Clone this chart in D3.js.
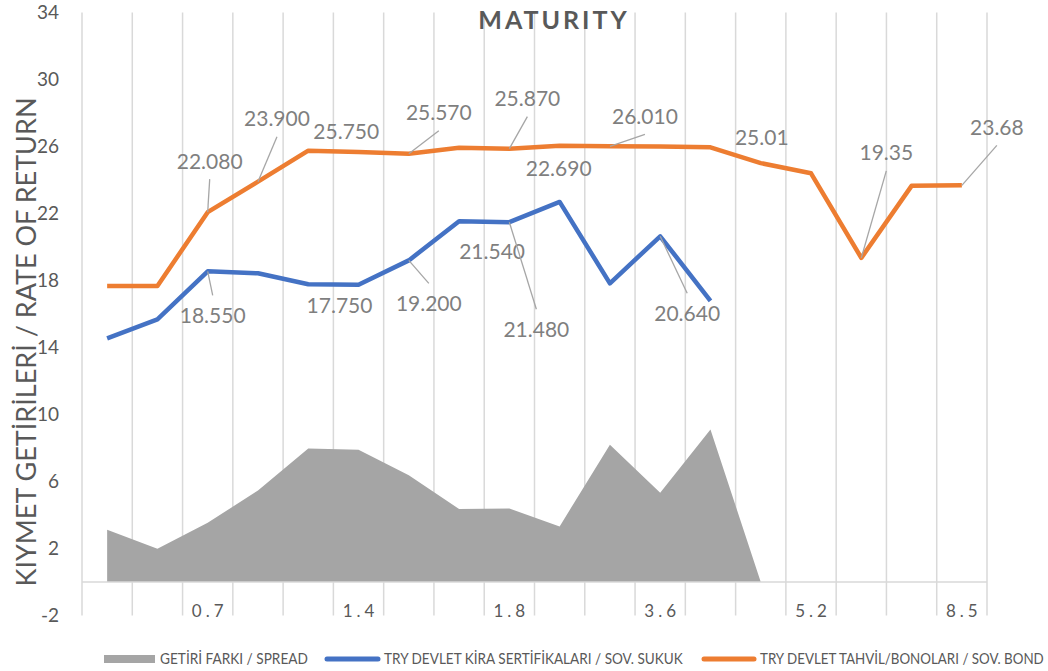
<!DOCTYPE html>
<html>
<head>
<meta charset="utf-8">
<script src="https://cdn.jsdelivr.net/npm/d3@7"></script>
<style>
  body { margin: 0; background: #fff; }
  text { font-family: Lato, "Liberation Sans", sans-serif; }
</style>
</head>
<body>
<div id="chart"></div>
<script>
// maturity categories (only every third one is labelled on the axis)
var tickLabels = ["", "", "0.7", "", "", "1.4", "", "", "1.8", "", "", "3.6", "", "", "5.2", "", "", "8.5"];
var yTicks = [-2, 2, 6, 10, 14, 18, 22, 26, 30, 34];

// TRY DEVLET TAHVİL/BONOLARI / SOV. BOND
var bond = [17.67, 17.67, 22.08, 23.90, 25.75, 25.67, 25.57, 25.93, 25.87, 26.05, 26.01, 26.00, 25.95, 25.01, 24.40, 19.35, 23.65, 23.68];
// TRY DEVLET KİRA SERTİFİKALARI / SOV. SUKUK
var sukuk = [14.55, 15.68, 18.55, 18.43, 17.78, 17.75, 19.20, 21.54, 21.48, 22.69, 17.83, 20.64, 16.79];
// GETİRİ FARKI / SPREAD
var spread = [3.12, 1.99, 3.53, 5.47, 7.97, 7.90, 6.37, 4.36, 4.39, 3.32, 8.20, 5.33, 9.10, 0];

// which points carry a data label, and where the label box sits (px offset from the point)
var bondLabels = [
  { i: 2, dec: 3, dx: 2, dy: -51, leader: true },
  { i: 3, dec: 3, dx: 19, dy: -63, leader: true },
  { i: 4, dec: 3, dx: 38, dy: -19, leader: false },
  { i: 6, dec: 3, dx: 30, dy: -41, leader: true },
  { i: 8, dec: 3, dx: 18, dy: -50, leader: true },
  { i: 10, dec: 3, dx: 35, dy: -30, leader: true },
  { i: 13, dec: 2, dx: 1, dy: -26, leader: false },
  { i: 15, dec: 2, dx: 25, dy: -105, leader: true },
  { i: 17, dec: 2, dx: 35, dy: -58, leader: true }
];
var sukukLabels = [
  { i: 2, dec: 3, dx: 5, dy: 44, leader: true },
  { i: 5, dec: 3, dx: -19, dy: 21, leader: false },
  { i: 6, dec: 3, dx: 20, dy: 43, leader: true },
  { i: 7, dec: 3, dx: 33, dy: 30, leader: false },
  { i: 8, dec: 3, dx: 27, dy: 107, leader: true },
  { i: 9, dec: 3, dx: -1, dy: -34, leader: false },
  { i: 11, dec: 3, dx: 27, dy: 77, leader: true }
];

var W = 1048, H = 671;
var plot = { left: 82, right: 987, top: 12.5, bottom: 615.5 };

var svg = d3.select("#chart").append("svg")
  .attr("width", W)
  .attr("height", H);

var x = d3.scaleBand()
  .domain(d3.range(tickLabels.length))
  .range([plot.left, plot.right])
  .padding(0);
var y = d3.scaleLinear()
  .domain([-2, 34])
  .range([plot.bottom, plot.top]);

var cx = function (i) { return x(i) + x.bandwidth() / 2; };

// vertical gridlines at category boundaries
var bounds = d3.range(tickLabels.length + 1).map(function (k) { return plot.left + k * x.step(); });
svg.append("g").selectAll("line")
  .data(bounds)
  .enter().append("line")
  .attr("x1", function (d) { return d; })
  .attr("x2", function (d) { return d; })
  .attr("y1", plot.top)
  .attr("y2", plot.bottom)
  .attr("stroke", "#d9d9d9")
  .attr("stroke-width", 1.5);

// spread area
var area = d3.area()
  .x(function (d, i) { return cx(i); })
  .y0(y(0))
  .y1(function (d) { return y(d); });
svg.append("path")
  .datum(spread)
  .attr("d", area)
  .attr("fill", "#a5a5a5");

// zero line
svg.append("line")
  .attr("x1", plot.left).attr("x2", plot.right)
  .attr("y1", y(0)).attr("y2", y(0))
  .attr("stroke", "#d9d9d9")
  .attr("stroke-width", 1.5);

var line = d3.line()
  .x(function (d, i) { return cx(i); })
  .y(function (d) { return y(d); });

svg.append("path")
  .datum(sukuk)
  .attr("d", line)
  .attr("fill", "none")
  .attr("stroke", "#4472c4")
  .attr("stroke-width", 4.5)
  .attr("stroke-linejoin", "round");

svg.append("path")
  .datum(bond)
  .attr("d", line)
  .attr("fill", "none")
  .attr("stroke", "#ed7d31")
  .attr("stroke-width", 4.5)
  .attr("stroke-linejoin", "round");

// y axis tick labels
var yAxis = d3.axisLeft(y).tickValues(yTicks).tickSize(0).tickPadding(0)
  .tickFormat(function (d) { return String(d); });
var gy = svg.append("g")
  .attr("transform", "translate(59,0)")
  .call(yAxis);
gy.select(".domain").remove();
gy.selectAll("text")
  .attr("fill", "#595959")
  .style("font-size", "19px")
  .style("font-family", "Lato, sans-serif");

// x axis tick labels
var xAxis = d3.axisBottom(x).tickSize(0).tickPadding(0)
  .tickFormat(function (d) { return tickLabels[d]; });
var gx = svg.append("g")
  .attr("transform", "translate(0,605)")
  .call(xAxis);
gx.select(".domain").remove();
gx.selectAll("text")
  .attr("fill", "#595959")
  .attr("dx", "2")
  .style("font-size", "17px")
  .style("letter-spacing", "4px")
  .style("font-family", "Lato, sans-serif");

// data labels
function drawLabels(values, specs) {
  var g = svg.append("g");
  specs.forEach(function (s) {
    var px = cx(s.i), py = y(values[s.i]);
    var lx = px + s.dx, ly = py + s.dy;
    if (s.leader) {
      var ey = s.dy < 0 ? ly + 18 : ly - 20;
      g.append("line")
        .attr("x1", px).attr("y1", py)
        .attr("x2", lx).attr("y2", ey)
        .attr("stroke", "#a6a6a6")
        .attr("stroke-width", 1.3);
    }
    g.append("text")
      .attr("x", lx)
      .attr("y", ly)
      .attr("dy", "0.36em")
      .attr("text-anchor", "middle")
      .attr("fill", "#7f7f7f")
      .style("font-size", "21px")
      .text(values[s.i].toFixed(s.dec));
  });
}
drawLabels(bond, bondLabels);
drawLabels(sukuk, sukukLabels);

// title
svg.append("text")
  .attr("x", 554)
  .attr("y", 29)
  .attr("text-anchor", "middle")
  .attr("fill", "#595959")
  .style("font-size", "25px")
  .style("font-weight", "bold")
  .style("letter-spacing", "3px")
  .text("MATURITY");

// y axis title
svg.append("text")
  .attr("transform", "translate(36,342) rotate(-90)")
  .attr("text-anchor", "middle")
  .attr("fill", "#595959")
  .style("font-size", "27px")
  .text("KIYMET GETİRİLERİ / RATE OF RETURN");

// legend (texts squeezed horizontally to the narrow width of the original font)
var legend = svg.append("g").style("font-size", "15px");
function legendText(tx, width, label) {
  var t = legend.append("text")
    .attr("fill", "#595959")
    .text(label);
  var len = t.node().getComputedTextLength();
  t.attr("transform", "translate(" + tx + ",664) scale(" + (width / len) + ",1)");
}
legend.append("rect")
  .attr("x", 104).attr("y", 655)
  .attr("width", 51).attr("height", 8)
  .attr("fill", "#a5a5a5");
legendText(160, 148, "GETİRİ FARKI / SPREAD");
legend.append("line")
  .attr("x1", 327).attr("x2", 378)
  .attr("y1", 659).attr("y2", 659)
  .attr("stroke", "#4472c4").attr("stroke-width", 5)
  .attr("stroke-linecap", "round");
legendText(384, 299, "TRY DEVLET KİRA SERTİFİKALARI / SOV. SUKUK");
legend.append("line")
  .attr("x1", 704).attr("x2", 754)
  .attr("y1", 659).attr("y2", 659)
  .attr("stroke", "#ed7d31").attr("stroke-width", 5)
  .attr("stroke-linecap", "round");
legendText(760, 284, "TRY DEVLET TAHVİL/BONOLARI / SOV. BOND");
</script>
</body>
</html>
